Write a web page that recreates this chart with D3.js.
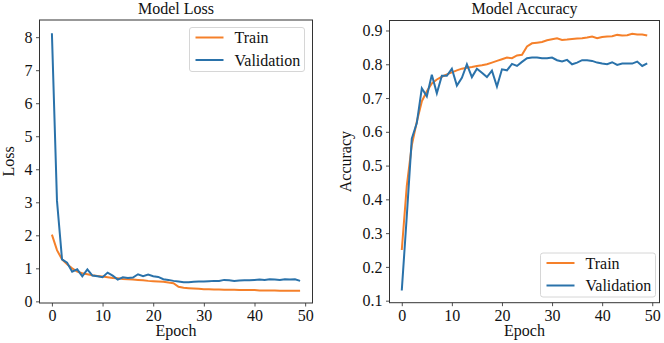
<!DOCTYPE html>
<html>
<head>
<meta charset="utf-8">
<script src="https://cdn.jsdelivr.net/npm/d3@7"></script>
<style>
  html, body { margin: 0; padding: 0; background: #fff; }
  svg { display: block; font-family: "Liberation Serif", "DejaVu Serif", serif; }
</style>
</head>
<body>
<svg id="chart" width="664" height="343"></svg>
<script>
// values, one per epoch
const epochs = d3.range(0, 50);
const trainLoss = [2.02, 1.55, 1.27, 1.12, 1.0, 0.9, 0.85, 0.82, 0.79, 0.77,
  0.75, 0.73, 0.71, 0.7, 0.68, 0.67, 0.66, 0.65, 0.64, 0.62,
  0.61, 0.6, 0.59, 0.57, 0.55, 0.44, 0.41, 0.4, 0.39, 0.38,
  0.37, 0.37, 0.36, 0.36, 0.35, 0.35, 0.35, 0.34, 0.34, 0.34,
  0.34, 0.33, 0.33, 0.33, 0.33, 0.32, 0.32, 0.32, 0.32, 0.32];
const valLoss = [8.12, 3.05, 1.27, 1.17, 0.9, 0.97, 0.76, 0.97, 0.78, 0.76,
  0.73, 0.87, 0.78, 0.66, 0.73, 0.71, 0.72, 0.82, 0.76, 0.81,
  0.76, 0.74, 0.67, 0.65, 0.62, 0.6, 0.58, 0.58, 0.59, 0.6,
  0.6, 0.61, 0.62, 0.62, 0.65, 0.64, 0.62, 0.63, 0.64, 0.64,
  0.65, 0.66, 0.65, 0.67, 0.66, 0.65, 0.67, 0.66, 0.67, 0.62];
const trainAcc = [0.25, 0.44, 0.56, 0.63, 0.69, 0.72, 0.743, 0.755, 0.763, 0.77,
  0.776, 0.782, 0.787, 0.79, 0.792, 0.795, 0.797, 0.8, 0.805, 0.81,
  0.815, 0.82, 0.818, 0.826, 0.828, 0.853, 0.862, 0.864, 0.866, 0.871,
  0.874, 0.877, 0.872, 0.873, 0.875, 0.876, 0.877, 0.879, 0.882, 0.877,
  0.881, 0.882, 0.883, 0.887, 0.885, 0.886, 0.89, 0.888, 0.888, 0.885];
const valAcc = [0.13, 0.35, 0.58, 0.626, 0.729, 0.705, 0.769, 0.714, 0.766, 0.766,
  0.787, 0.737, 0.76, 0.8, 0.762, 0.787, 0.775, 0.762, 0.781, 0.734,
  0.785, 0.782, 0.801, 0.795, 0.807, 0.818, 0.82, 0.82, 0.818, 0.818,
  0.82, 0.812, 0.808, 0.813, 0.8, 0.805, 0.812, 0.812, 0.81, 0.805,
  0.802, 0.8, 0.806, 0.798, 0.802, 0.802, 0.802, 0.808, 0.795, 0.803];

const epochTicks = [0, 10, 20, 30, 40, 50];
const lossTicks = [0, 1, 2, 3, 4, 5, 6, 7, 8];
const accTicks = [0.1, 0.2, 0.3, 0.4, 0.5, 0.6, 0.7, 0.8, 0.9];
const seriesNames = ['Train', 'Validation'];

const colors = { Train: '#f5802a', Validation: '#2a72aa' };
const svg = d3.select('#chart');

function drawPanel(p) {
  const x = d3.scaleLinear().domain([-2.45, 51.45]).range([p.left, p.right]);
  const y = d3.scaleLinear().domain(p.yDomain).range([p.bottom, p.top]);
  const g = svg.append('g');

  const xAxis = g.append('g')
    .attr('transform', `translate(0,${p.bottom})`)
    .call(d3.axisBottom(x).tickValues(epochTicks).tickFormat(d3.format('d'))
      .tickSizeOuter(0).tickSize(3.5).tickPadding(3));
  const yAxis = g.append('g')
    .attr('transform', `translate(${p.left},0)`)
    .call(d3.axisLeft(y).tickValues(p.ticks).tickFormat(p.fmt)
      .tickSizeOuter(0).tickSize(3.5).tickPadding(3.5));
  [xAxis, yAxis].forEach(a => {
    a.select('.domain').remove();
    a.selectAll('line').attr('stroke', '#222').attr('stroke-width', 0.8);
    a.selectAll('text').attr('font-family', 'Liberation Serif').attr('font-size', '16px').attr('fill', '#111');
  });

  const line = d3.line().x((d, i) => x(epochs[i])).y(d => y(d));
  g.append('path').datum(p.train)
    .attr('d', line).attr('fill', 'none')
    .attr('stroke', colors.Train).attr('stroke-width', 2);
  g.append('path').datum(p.val)
    .attr('d', line).attr('fill', 'none')
    .attr('stroke', colors.Validation).attr('stroke-width', 2);

  // frame
  g.append('rect')
    .attr('x', p.left).attr('y', p.top)
    .attr('width', p.right - p.left).attr('height', p.bottom - p.top)
    .attr('fill', 'none').attr('stroke', '#333').attr('stroke-width', 1);

  g.append('text')
    .attr('x', (p.left + p.right) / 2).attr('y', 14)
    .attr('text-anchor', 'middle').attr('font-size', '16px').attr('fill', '#111')
    .text(p.title);
  g.append('text')
    .attr('x', (p.left + p.right) / 2).attr('y', 336)
    .attr('text-anchor', 'middle').attr('font-size', '16px').attr('fill', '#111')
    .text('Epoch');
  g.append('text')
    .attr('transform', `translate(${p.ylabelX},${(p.top + p.bottom) / 2}) rotate(-90)`)
    .attr('text-anchor', 'middle').attr('font-size', '16px').attr('fill', '#111')
    .text(p.ylabel);

  // legend
  const lg = g.append('g').attr('transform', `translate(${p.legend[0]},${p.legend[1]})`);
  lg.append('rect')
    .attr('width', 115).attr('height', 44).attr('rx', 2.5)
    .attr('fill', '#fff').attr('fill-opacity', 0.8)
    .attr('stroke', '#d6d6d6').attr('stroke-width', 1);
  seriesNames.forEach((name, i) => {
    const cy = 10 + i * 22.5;
    lg.append('line')
      .attr('x1', 6).attr('x2', 34).attr('y1', cy).attr('y2', cy)
      .attr('stroke', colors[name]).attr('stroke-width', 2);
    lg.append('text')
      .attr('x', 45).attr('y', cy).attr('dy', '0.35em')
      .attr('font-size', '16px').attr('fill', '#111')
      .text(name);
  });
}

drawPanel({
  left: 39.5, right: 312.5, top: 20, bottom: 303,
  yDomain: [-0.05, 8.52], ticks: lossTicks, fmt: d3.format('d'),
  train: trainLoss, val: valLoss,
  title: 'Model Loss', ylabel: 'Loss', ylabelX: 14,
  legend: [189.5, 27.5]
});

drawPanel({
  left: 389.5, right: 659.5, top: 20.5, bottom: 302.7,
  yDomain: [0.094, 0.9296], ticks: accTicks, fmt: d3.format('.1f'),
  train: trainAcc, val: valAcc,
  title: 'Model Accuracy', ylabel: 'Accuracy', ylabelX: 351,
  legend: [540.5, 253]
});
</script>
</body>
</html>
